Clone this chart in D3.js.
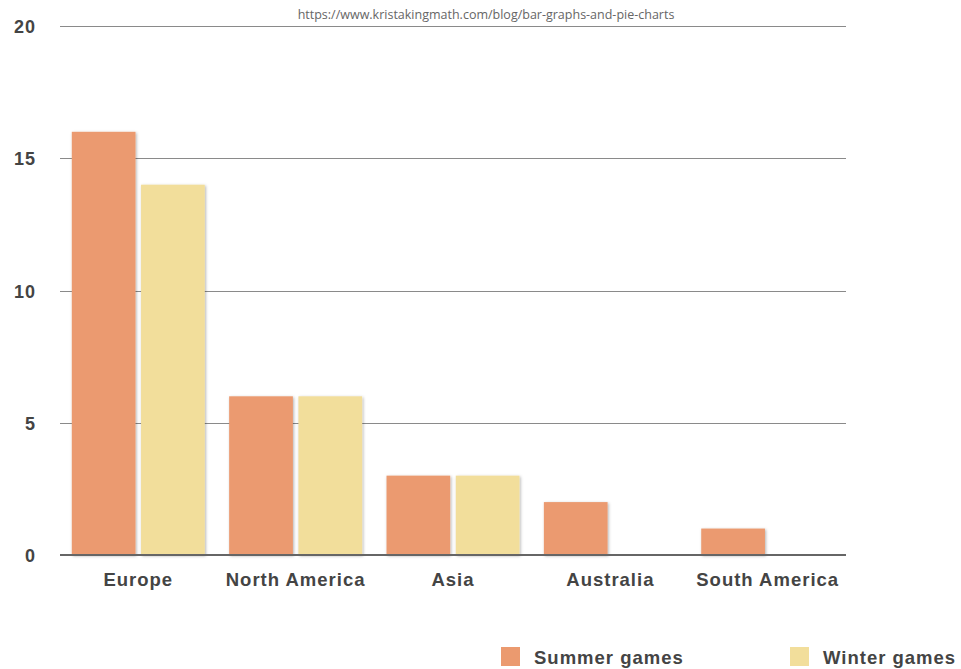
<!DOCTYPE html>
<html><head><meta charset="utf-8">
<script src="https://cdn.jsdelivr.net/npm/d3@7"></script>
<style>body{margin:0;background:#fff;}svg{display:block;}</style>
</head><body>
<svg id="chart" width="961" height="669"></svg>
<script>
const categories = ["Europe", "North America", "Asia", "Australia", "South America"];
const seriesNames = ["Summer games", "Winter games"];
const summerGames = [16, 6, 3, 2, 1];
const winterGames = [14, 6, 3, 0, 0];
const yTicks = [0, 5, 10, 15, 20];
const sourceText = "https://www.kristakingmath.com/blog/bar-graphs-and-pie-charts";
const colors = ["#EB9A6F", "#F2DE9B"];

const svg = d3.select("#chart");
const margin = {left: 60, right: 115, top: 26, bottom: 114};
const W = 961, H = 669;
const x0 = d3.scaleBand().domain(categories).range([margin.left, W - margin.right]).paddingInner(0.155).paddingOuter(0.075);
const x1 = d3.scaleBand().domain(seriesNames).range([0, x0.bandwidth()]).paddingInner(0.08);
const y = d3.scaleLinear().domain([0, 20]).range([H - margin.bottom, margin.top]);

const FONT = "Liberation Sans, Arial, sans-serif";
const defs = svg.append("defs");
const f = defs.append("filter").attr("id", "sh").attr("x", "-20%").attr("y", "-20%").attr("width", "140%").attr("height", "140%");
f.append("feDropShadow").attr("dx", 1).attr("dy", 1).attr("stdDeviation", 1.5).attr("flood-color", "#000").attr("flood-opacity", 0.3);

// gridlines
svg.append("g").selectAll("line").data(yTicks.filter(d => d > 0)).join("line")
  .attr("x1", margin.left).attr("x2", W - margin.right)
  .attr("y1", d => Math.round(y(d)) + 0.5).attr("y2", d => Math.round(y(d)) + 0.5)
  .attr("stroke", "#8a8a8a").attr("stroke-width", 1);

// y labels
svg.append("g").selectAll("text").data(yTicks).join("text")
  .attr("x", 36).attr("y", d => y(d) + 7)
  .attr("text-anchor", "end")
  .attr("font-family", FONT).attr("font-weight", "bold").attr("font-size", 18).attr("letter-spacing", 1)
  .attr("fill", "#444").text(d => d);

// bars
const series = [summerGames, winterGames];
const data = [];
categories.forEach((c, i) => seriesNames.forEach((s, j) => {
  const v = series[j][i];
  if (v > 0) data.push({c, s, v, j});
}));
svg.append("g").selectAll("rect").data(data).join("rect")
  .attr("x", d => x0(d.c) + x1(d.s)).attr("width", x1.bandwidth())
  .attr("y", d => y(d.v)).attr("height", d => y(0) - y(d.v))
  .attr("fill", d => colors[d.j]).attr("filter", "url(#sh)");

// baseline
svg.append("line").attr("x1", margin.left).attr("x2", W - margin.right)
  .attr("y1", y(0)).attr("y2", y(0)).attr("stroke", "#666").attr("stroke-width", 2);

// category labels
svg.append("g").selectAll("text").data(categories).join("text")
  .attr("x", d => x0(d) + x0.bandwidth() / 2).attr("y", y(0) + 31)
  .attr("text-anchor", "middle")
  .attr("font-family", FONT).attr("font-weight", "bold").attr("font-size", 18.5).attr("letter-spacing", 1)
  .attr("fill", "#444").text(d => d);

// source
svg.append("text").attr("x", 486).attr("y", 19).attr("text-anchor", "middle")
  .attr("font-family", "Open Sans, sans-serif").attr("font-size", 12.5).attr("fill", "#666").text(sourceText);

// legend
const legX = [501, 790];
const leg = svg.append("g").selectAll("g").data(seriesNames).join("g")
  .attr("transform", (d, i) => `translate(${legX[i]},647)`);
leg.append("rect").attr("width", 19).attr("height", 19).attr("fill", (d, i) => colors[i]);
leg.append("text").attr("x", 33).attr("y", 17)
  .attr("font-family", FONT).attr("font-weight", "bold").attr("font-size", 18.5).attr("letter-spacing", 1)
  .attr("fill", "#444").text(d => d);
</script>
</body></html>
